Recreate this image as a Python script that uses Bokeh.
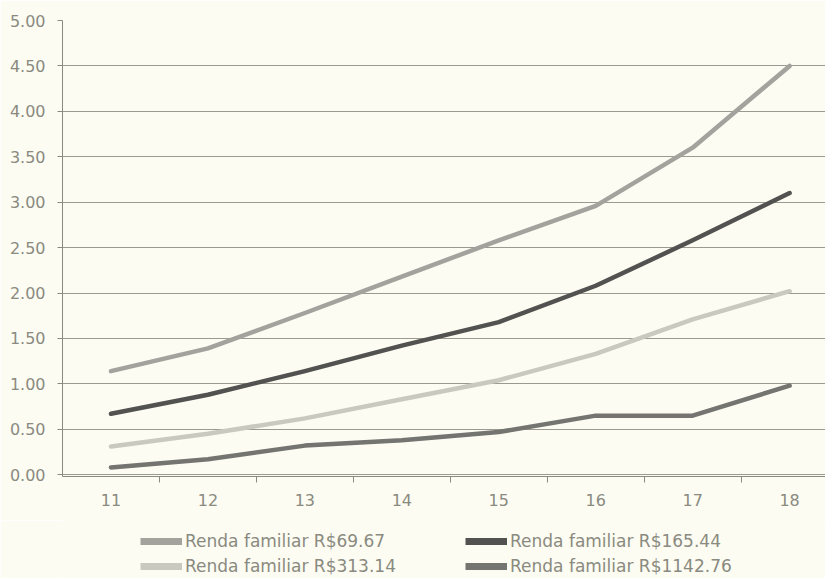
from bokeh.plotting import figure
from bokeh.layouts import column
from bokeh.models import FixedTicker, Legend, LegendItem, Range1d, CustomJSTickFormatter
from bokeh.embed import file_html
from bokeh.resources import INLINE

ages = [11, 12, 13, 14, 15, 16, 17, 18]
age_labels = ["11", "12", "13", "14", "15", "16", "17", "18"]
y_ticks = [0.0, 0.5, 1.0, 1.5, 2.0, 2.5, 3.0, 3.5, 4.0, 4.5, 5.0]

series_names = [
    "Renda familiar R$69.67",
    "Renda familiar R$165.44",
    "Renda familiar R$313.14",
    "Renda familiar R$1142.76",
]
renda_69 = [1.14, 1.39, 1.78, 2.18, 2.58, 2.96, 3.60, 4.50]
renda_165 = [0.67, 0.88, 1.14, 1.42, 1.68, 2.08, 2.58, 3.10]
renda_313 = [0.31, 0.45, 0.62, 0.83, 1.04, 1.33, 1.71, 2.02]
renda_1142 = [0.08, 0.17, 0.32, 0.38, 0.47, 0.65, 0.65, 0.98]
all_series = [renda_69, renda_165, renda_313, renda_1142]

colors = ["#a3a29c", "#525250", "#c9c9c0", "#747470"]
FONT = "DejaVu Sans"
TEXT_COLOR = "#8a8a80"
BG = "#fcfcf2"

p = figure(width=825, height=520, output_backend="svg", toolbar_location=None,
           x_range=Range1d(10.5, 18.37), y_range=Range1d(-0.02, 5.0),
           background_fill_color=BG, border_fill_color=BG, outline_line_color=None,
           min_border_left=62, min_border_top=20, min_border_right=0, min_border_bottom=44)

for vals, c in zip(all_series, colors):
    p.line(ages, vals, line_color=c, line_width=4.5, line_join="round", line_cap="round")

# x axis: labels at centres, tick marks at category boundaries
xa = p.xaxis[0]
xa.ticker = FixedTicker(ticks=ages, minor_ticks=[a + 0.5 for a in ages[:-1]])
xa.major_label_overrides = {a: l for a, l in zip(ages, age_labels)}
xa.major_tick_line_color = None
xa.minor_tick_line_color = "#8a8a80"
xa.minor_tick_out = 6
xa.minor_tick_in = 0
xa.axis_line_color = "#8a8a80"
xa.major_label_text_font = FONT
xa.major_label_text_font_size = "16px"
xa.major_label_text_color = TEXT_COLOR
xa.major_label_standoff = 11

ya = p.yaxis[0]
ya.ticker = FixedTicker(ticks=y_ticks)
ya.formatter = CustomJSTickFormatter(code="return tick.toFixed(2);")
ya.major_tick_line_color = "#8a8a80"
ya.major_tick_out = 5
ya.major_tick_in = 0
ya.minor_tick_line_color = None
ya.axis_line_color = "#8a8a80"
ya.major_label_text_font = FONT
ya.major_label_text_font_size = "16px"
ya.major_label_text_color = TEXT_COLOR
ya.major_label_standoff = 12

p.xgrid.grid_line_color = None
p.ygrid.ticker = FixedTicker(ticks=y_ticks)
p.ygrid.grid_line_color = "#9a9a90"
p.ygrid.grid_line_width = 1

# legend strip below the chart (series drawn off-range, only the legend shows)
lg = figure(width=825, height=58, output_backend="svg", toolbar_location=None,
            x_range=Range1d(0, 1), y_range=Range1d(0, 1),
            background_fill_color=BG, border_fill_color=BG, outline_line_color=None,
            min_border=0, x_axis_type=None, y_axis_type=None)
lg.xgrid.grid_line_color = None
lg.ygrid.grid_line_color = None
proxies = [lg.line(ages, vals, line_color=c, line_width=7, line_cap="butt")
           for vals, c in zip(all_series, colors)]
items = [LegendItem(label=n, renderers=[r]) for n, r in zip(series_names, proxies)]
legend = Legend(items=items, location=(78, 2), orientation="horizontal", nrows=2,
                background_fill_alpha=0, border_line_color=None,
                label_text_font=FONT, label_text_font_size="17px", label_text_color=TEXT_COLOR,
                glyph_width=42, glyph_height=20, label_height=20, label_width=275,
                label_standoff=3, spacing=5, padding=0, margin=0)
lg.add_layout(legend, "center")

layout = column(p, lg, spacing=0)
open("out.html", "w").write(file_html(layout, INLINE))
